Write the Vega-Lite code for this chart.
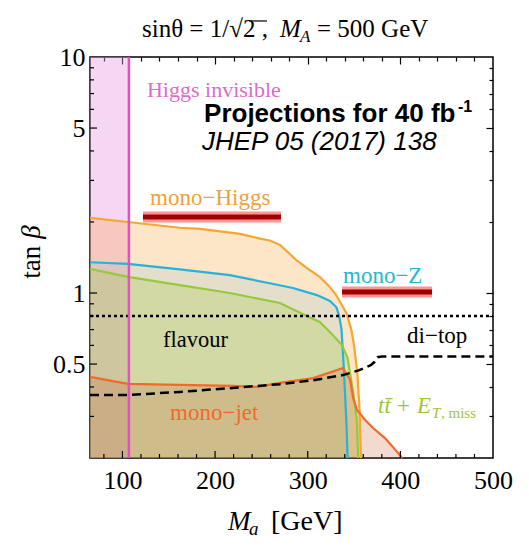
{
  "$schema": "https://vega.github.io/schema/vega-lite/v6.json",
  "width": 403,
  "height": 401,
  "autosize": "none",
  "padding": {"left": 90, "top": 57, "right": 36, "bottom": 89},
  "background": "white",
  "config": {
    "view": {"stroke": "black", "strokeWidth": 1.5},
    "axis": {"domain": false, "grid": false, "title": null, "tickColor": "black", "tickWidth": 1.2, "labelColor": "black", "labelFont": "Liberation Serif", "labelFontSize": 26, "labelOverlap": false, "labelFlush": false, "zindex": 1}
  },
  "datasets": {
    "curves": [
      {"s": "monoHiggs", "ma": 65, "tb": 2.08}, {"s": "monoHiggs", "ma": 106, "tb": 2.0}, {"s": "monoHiggs", "ma": 162, "tb": 1.89}, {"s": "monoHiggs", "ma": 184, "tb": 1.87}, {"s": "monoHiggs", "ma": 227, "tb": 1.78}, {"s": "monoHiggs", "ma": 248.5, "tb": 1.70}, {"s": "monoHiggs", "ma": 259, "tb": 1.67}, {"s": "monoHiggs", "ma": 270, "tb": 1.60}, {"s": "monoHiggs", "ma": 288.5, "tb": 1.37}, {"s": "monoHiggs", "ma": 300, "tb": 1.27}, {"s": "monoHiggs", "ma": 313, "tb": 1.17}, {"s": "monoHiggs", "ma": 322, "tb": 1.08}, {"s": "monoHiggs", "ma": 330, "tb": 0.99}, {"s": "monoHiggs", "ma": 336, "tb": 0.90}, {"s": "monoHiggs", "ma": 342, "tb": 0.82}, {"s": "monoHiggs", "ma": 347, "tb": 0.70}, {"s": "monoHiggs", "ma": 350, "tb": 0.60}, {"s": "monoHiggs", "ma": 353.5, "tb": 0.46}, {"s": "monoHiggs", "ma": 356, "tb": 0.32}, {"s": "monoHiggs", "ma": 357.5, "tb": 0.2},
      {"s": "monoZ", "ma": 65, "tb": 1.35}, {"s": "monoZ", "ma": 106, "tb": 1.33}, {"s": "monoZ", "ma": 162, "tb": 1.26}, {"s": "monoZ", "ma": 216, "tb": 1.19}, {"s": "monoZ", "ma": 259, "tb": 1.10}, {"s": "monoZ", "ma": 284, "tb": 1.05}, {"s": "monoZ", "ma": 310, "tb": 0.98}, {"s": "monoZ", "ma": 324, "tb": 0.925}, {"s": "monoZ", "ma": 331, "tb": 0.87}, {"s": "monoZ", "ma": 334, "tb": 0.80}, {"s": "monoZ", "ma": 336.5, "tb": 0.70}, {"s": "monoZ", "ma": 338.5, "tb": 0.52}, {"s": "monoZ", "ma": 340.5, "tb": 0.36}, {"s": "monoZ", "ma": 342, "tb": 0.27}, {"s": "monoZ", "ma": 343, "tb": 0.2},
      {"s": "ttMET", "ma": 65, "tb": 1.265}, {"s": "ttMET", "ma": 106, "tb": 1.17}, {"s": "ttMET", "ma": 162, "tb": 1.08}, {"s": "ttMET", "ma": 216, "tb": 1.0}, {"s": "ttMET", "ma": 270, "tb": 0.907}, {"s": "ttMET", "ma": 299, "tb": 0.80}, {"s": "ttMET", "ma": 313, "tb": 0.754}, {"s": "ttMET", "ma": 327, "tb": 0.664}, {"s": "ttMET", "ma": 337, "tb": 0.602}, {"s": "ttMET", "ma": 343, "tb": 0.531}, {"s": "ttMET", "ma": 346, "tb": 0.45}, {"s": "ttMET", "ma": 349, "tb": 0.38}, {"s": "ttMET", "ma": 353, "tb": 0.29}, {"s": "ttMET", "ma": 354.5, "tb": 0.2},
      {"s": "monoJet", "ma": 65, "tb": 0.441}, {"s": "monoJet", "ma": 106, "tb": 0.412}, {"s": "monoJet", "ma": 162, "tb": 0.408}, {"s": "monoJet", "ma": 219, "tb": 0.404}, {"s": "monoJet", "ma": 245, "tb": 0.40}, {"s": "monoJet", "ma": 270, "tb": 0.416}, {"s": "monoJet", "ma": 306, "tb": 0.436}, {"s": "monoJet", "ma": 338, "tb": 0.481}, {"s": "monoJet", "ma": 345.7, "tb": 0.43}, {"s": "monoJet", "ma": 349, "tb": 0.36}, {"s": "monoJet", "ma": 353, "tb": 0.32}, {"s": "monoJet", "ma": 362, "tb": 0.29}, {"s": "monoJet", "ma": 370.5, "tb": 0.268}, {"s": "monoJet", "ma": 383.4, "tb": 0.243}, {"s": "monoJet", "ma": 394, "tb": 0.218}, {"s": "monoJet", "ma": 402, "tb": 0.2},
      {"s": "diTop", "ma": 65, "tb": 0.37}, {"s": "diTop", "ma": 106, "tb": 0.37}, {"s": "diTop", "ma": 162, "tb": 0.381}, {"s": "diTop", "ma": 219, "tb": 0.396}, {"s": "diTop", "ma": 270, "tb": 0.411}, {"s": "diTop", "ma": 306, "tb": 0.427}, {"s": "diTop", "ma": 338, "tb": 0.449}, {"s": "diTop", "ma": 355, "tb": 0.47}, {"s": "diTop", "ma": 368, "tb": 0.495}, {"s": "diTop", "ma": 372, "tb": 0.51}, {"s": "diTop", "ma": 375.5, "tb": 0.535}, {"s": "diTop", "ma": 380, "tb": 0.538}, {"s": "diTop", "ma": 500, "tb": 0.538}
    ],
    "higgsInvisible": [{"ma": 107, "lo": 0.2, "hi": 10, "left": 65}],
    "flavour": [{"tb": 0.8, "from": 65, "to": 500}],
    "minorX": [{"v": 80}, {"v": 120}, {"v": 140}, {"v": 160}, {"v": 180}, {"v": 220}, {"v": 240}, {"v": 260}, {"v": 280}, {"v": 320}, {"v": 340}, {"v": 360}, {"v": 380}, {"v": 420}, {"v": 440}, {"v": 460}, {"v": 480}],
    "majorX": [{"v": 100}, {"v": 200}, {"v": 300}, {"v": 400}],
    "minorY": [{"v": 0.3}, {"v": 0.4}, {"v": 0.6}, {"v": 0.7}, {"v": 0.8}, {"v": 0.9}, {"v": 2}, {"v": 3}, {"v": 4}, {"v": 6}, {"v": 7}, {"v": 8}, {"v": 9}],
    "majorY": [{"v": 0.5}, {"v": 1}, {"v": 5}]
  },
  "resolve": {"axis": {"x": "independent", "y": "independent"}},
  "layer": [
    {
      "encoding": {
        "x": {"type": "quantitative", "scale": {"domain": [65, 500], "nice": false, "zero": false},
          "axis": {"orient": "bottom", "ticks": false, "values": [100, 200, 300, 400, 500], "labelPadding": 9}},
        "y": {"type": "quantitative", "scale": {"type": "log", "domain": [0.2, 10], "nice": false},
          "axis": {"orient": "left", "ticks": false, "values": [0.5, 1, 5, 10], "labelExpr": "'' + datum.value", "labelPadding": 5}}
      },
      "layer": [
        {
          "data": {"name": "higgsInvisible"},
          "mark": {"type": "rect", "color": "#e79be0", "opacity": 0.4},
          "encoding": {"x": {"field": "left"}, "x2": {"field": "ma"}, "y": {"field": "lo"}, "y2": {"field": "hi"}}
        },
        {
          "data": {"name": "curves"},
          "transform": [{"filter": "datum.s === 'monoHiggs'"}],
          "mark": {"type": "area", "color": "#f9a13a", "opacity": 0.28},
          "encoding": {"x": {"field": "ma"}, "y": {"field": "tb"}, "y2": {"datum": 0.2}}
        },
        {
          "data": {"name": "curves"},
          "transform": [{"filter": "datum.s === 'monoZ'"}],
          "mark": {"type": "area", "color": "#3fb3d9", "opacity": 0.13},
          "encoding": {"x": {"field": "ma"}, "y": {"field": "tb"}, "y2": {"datum": 0.2}}
        },
        {
          "data": {"name": "curves"},
          "transform": [{"filter": "datum.s === 'ttMET'"}],
          "mark": {"type": "area", "color": "#9acd32", "opacity": 0.25},
          "encoding": {"x": {"field": "ma"}, "y": {"field": "tb"}, "y2": {"datum": 0.2}}
        },
        {
          "data": {"name": "curves"},
          "transform": [{"filter": "datum.s === 'monoJet'"}],
          "mark": {"type": "area", "color": "#c8603a", "opacity": 0.23},
          "encoding": {"x": {"field": "ma"}, "y": {"field": "tb"}, "y2": {"datum": 0.2}}
        },
        {
          "data": {"name": "curves"},
          "transform": [{"filter": "datum.s === 'monoHiggs'"}],
          "mark": {"type": "line", "color": "#f7a630", "strokeWidth": 2.2},
          "encoding": {"x": {"field": "ma"}, "y": {"field": "tb"}}
        },
        {
          "data": {"name": "curves"},
          "transform": [{"filter": "datum.s === 'monoZ'"}],
          "mark": {"type": "line", "color": "#27b2d8", "strokeWidth": 2.2},
          "encoding": {"x": {"field": "ma"}, "y": {"field": "tb"}}
        },
        {
          "data": {"name": "curves"},
          "transform": [{"filter": "datum.s === 'ttMET'"}],
          "mark": {"type": "line", "color": "#97c93c", "strokeWidth": 2.2},
          "encoding": {"x": {"field": "ma"}, "y": {"field": "tb"}}
        },
        {
          "data": {"name": "curves"},
          "transform": [{"filter": "datum.s === 'monoJet'"}],
          "mark": {"type": "line", "color": "#f26a2a", "strokeWidth": 2.2},
          "encoding": {"x": {"field": "ma"}, "y": {"field": "tb"}}
        },
        {
          "data": {"name": "flavour"},
          "mark": {"type": "rule", "color": "black", "strokeWidth": 2.5, "strokeDash": [3, 3]},
          "encoding": {"x": {"field": "from"}, "x2": {"field": "to"}, "y": {"field": "tb"}}
        },
        {
          "data": {"name": "curves"},
          "transform": [{"filter": "datum.s === 'diTop'"}],
          "mark": {"type": "line", "color": "black", "strokeWidth": 2.5, "strokeDash": [9, 5]},
          "encoding": {"x": {"field": "ma"}, "y": {"field": "tb"}}
        },
        {
          "data": {"name": "higgsInvisible"},
          "mark": {"type": "rule", "color": "#e052c0", "strokeWidth": 2.5},
          "encoding": {"x": {"field": "ma"}, "y": {"field": "lo"}, "y2": {"field": "hi"}}
        },
        {"data": {"name": "minorX"}, "mark": {"type": "rule", "color": "black", "strokeWidth": 1.2},
         "encoding": {"x": {"field": "v"}, "y": {"datum": 0.2}, "y2": {"datum": 0.208}}},
        {"data": {"name": "majorX"}, "mark": {"type": "rule", "color": "black", "strokeWidth": 1.2},
         "encoding": {"x": {"field": "v"}, "y": {"datum": 0.2}, "y2": {"datum": 0.2141}}},
        {"data": {"name": "minorY"}, "mark": {"type": "rule", "color": "black", "strokeWidth": 1.2},
         "encoding": {"y": {"field": "v"}, "x": {"datum": 65}, "x2": {"datum": 69.3}}},
        {"data": {"name": "majorY"}, "mark": {"type": "rule", "color": "black", "strokeWidth": 1.2},
         "encoding": {"y": {"field": "v"}, "x": {"datum": 65}, "x2": {"datum": 72.6}}},
        {"data": {"values": [{}]}, "mark": {"type": "rule", "color": "#ff2a2a", "opacity": 0.5, "strokeWidth": 11},
         "encoding": {"x": {"datum": 122.2}, "x2": {"datum": 271.2}, "y": {"datum": 2.10}}},
        {"data": {"values": [{}]}, "mark": {"type": "rule", "color": "#a00000", "strokeWidth": 5},
         "encoding": {"x": {"datum": 122.2}, "x2": {"datum": 271.2}, "y": {"datum": 2.10}}},
        {"data": {"values": [{}]}, "mark": {"type": "rule", "color": "#ff2a2a", "opacity": 0.5, "strokeWidth": 11},
         "encoding": {"x": {"datum": 337.0}, "x2": {"datum": 434.2}, "y": {"datum": 1.01}}},
        {"data": {"values": [{}]}, "mark": {"type": "rule", "color": "#a00000", "strokeWidth": 5},
         "encoding": {"x": {"datum": 337.0}, "x2": {"datum": 434.2}, "y": {"datum": 1.01}}},
        {"data": {"values": [{}]}, "mark": {"type": "text", "text": "Higgs invisible", "font": "Liberation Serif", "fontSize": 22, "align": "left", "baseline": "alphabetic", "color": "#dc6cc8"},
         "encoding": {"x": {"datum": 126.5}, "y": {"datum": 6.77}}},
        {"data": {"values": [{}]}, "mark": {"type": "text", "text": "Projections for 40 fb", "font": "Liberation Sans", "fontWeight": "bold", "fontSize": 26, "align": "left", "baseline": "alphabetic", "color": "black"},
         "encoding": {"x": {"datum": 188.1}, "y": {"datum": 5.30}}},
        {"data": {"values": [{}]}, "mark": {"type": "text", "text": "-1", "font": "Liberation Sans", "fontWeight": "bold", "fontSize": 16, "align": "left", "baseline": "alphabetic", "color": "black"},
         "encoding": {"x": {"datum": 462.2}, "y": {"datum": 5.85}}},
        {"data": {"values": [{}]}, "mark": {"type": "text", "text": "JHEP 05 (2017) 138", "font": "Liberation Sans", "fontStyle": "italic", "fontSize": 26, "align": "left", "baseline": "alphabetic", "color": "black"},
         "encoding": {"x": {"datum": 185.9}, "y": {"datum": 4.04}}},
        {"data": {"values": [{}]}, "mark": {"type": "text", "text": "mono−Higgs", "font": "Liberation Serif", "fontSize": 23, "align": "left", "baseline": "alphabetic", "color": "#f0a040"},
         "encoding": {"x": {"datum": 129.8}, "y": {"datum": 2.36}}},
        {"data": {"values": [{}]}, "mark": {"type": "text", "text": "mono−Z", "font": "Liberation Serif", "fontSize": 23, "align": "left", "baseline": "alphabetic", "color": "#29b5d5"},
         "encoding": {"x": {"datum": 338.1}, "y": {"datum": 1.103}}},
        {"data": {"values": [{}]}, "mark": {"type": "text", "text": "flavour", "font": "Liberation Serif", "fontSize": 22.5, "align": "left", "baseline": "alphabetic", "color": "black"},
         "encoding": {"x": {"datum": 143.8}, "y": {"datum": 0.590}}},
        {"data": {"values": [{}]}, "mark": {"type": "text", "text": "di−top", "font": "Liberation Serif", "fontSize": 23, "align": "left", "baseline": "alphabetic", "color": "black"},
         "encoding": {"x": {"datum": 407.2}, "y": {"datum": 0.614}}},
        {"data": {"values": [{}]}, "mark": {"type": "text", "text": "mono−jet", "font": "Liberation Serif", "fontSize": 23, "align": "left", "baseline": "alphabetic", "color": "#f26a2a"},
         "encoding": {"x": {"datum": 151.4}, "y": {"datum": 0.290}}},
        {"data": {"values": [{}]}, "mark": {"type": "text", "text": "tt̄", "font": "Liberation Serif", "fontStyle": "italic", "fontSize": 23, "align": "left", "baseline": "alphabetic", "color": "#9cc63a"},
         "encoding": {"x": {"datum": 375.9}, "y": {"datum": 0.310}}},
        {"data": {"values": [{}]}, "mark": {"type": "text", "text": "+", "font": "Liberation Serif", "fontSize": 23, "align": "left", "baseline": "alphabetic", "color": "#9cc63a"},
         "encoding": {"x": {"datum": 396.4}, "y": {"datum": 0.310}}},
        {"data": {"values": [{}]}, "mark": {"type": "text", "text": "E", "font": "Liberation Serif", "fontStyle": "italic", "fontSize": 23, "align": "left", "baseline": "alphabetic", "color": "#9cc63a"},
         "encoding": {"x": {"datum": 418.0}, "y": {"datum": 0.310}}},
        {"data": {"values": [{}]}, "mark": {"type": "text", "text": "T", "font": "Liberation Serif", "fontStyle": "italic", "fontSize": 15, "align": "left", "baseline": "alphabetic", "color": "#9cc63a"},
         "encoding": {"x": {"datum": 434.2}, "y": {"datum": 0.2955}}},
        {"data": {"values": [{}]}, "mark": {"type": "text", "text": ", miss", "font": "Liberation Serif", "fontSize": 15, "align": "left", "baseline": "alphabetic", "color": "#9cc63a"},
         "encoding": {"x": {"datum": 443.9}, "y": {"datum": 0.2955}}},
        {"data": {"values": [{}]}, "mark": {"type": "text", "text": "sinθ = 1/√2 ,", "font": "Liberation Serif", "fontSize": 25, "align": "left", "baseline": "alphabetic", "color": "black"},
         "encoding": {"x": {"datum": 121.1}, "y": {"datum": 12.15}}},
        {"data": {"values": [{}]}, "mark": {"type": "rule", "color": "black", "strokeWidth": 1.2},
         "encoding": {"x": {"datum": 236.6}, "x2": {"datum": 256.1}, "y": {"datum": 14.21}}},
        {"data": {"values": [{}]}, "mark": {"type": "text", "text": "M", "font": "Liberation Serif", "fontStyle": "italic", "fontSize": 25, "align": "left", "baseline": "alphabetic", "color": "black"},
         "encoding": {"x": {"datum": 270.1}, "y": {"datum": 12.15}}},
        {"data": {"values": [{}]}, "mark": {"type": "text", "text": "A", "font": "Liberation Serif", "fontStyle": "italic", "fontSize": 17, "align": "left", "baseline": "alphabetic", "color": "black"},
         "encoding": {"x": {"datum": 291.7}, "y": {"datum": 11.57}}},
        {"data": {"values": [{}]}, "mark": {"type": "text", "text": "= 500 GeV", "font": "Liberation Serif", "fontSize": 25, "align": "left", "baseline": "alphabetic", "color": "black"},
         "encoding": {"x": {"datum": 310.0}, "y": {"datum": 12.15}}},
        {"data": {"values": [{}]}, "mark": {"type": "text", "text": "M", "font": "Liberation Serif", "fontStyle": "italic", "fontSize": 27, "align": "left", "baseline": "alphabetic", "color": "black"},
         "encoding": {"x": {"datum": 214.0}, "y": {"datum": 0.0991}}},
        {"data": {"values": [{}]}, "mark": {"type": "text", "text": "a", "font": "Liberation Serif", "fontStyle": "italic", "fontSize": 19, "align": "left", "baseline": "alphabetic", "color": "black"},
         "encoding": {"x": {"datum": 236.6}, "y": {"datum": 0.0944}}},
        {"data": {"values": [{}]}, "mark": {"type": "text", "text": "[GeV]", "font": "Liberation Serif", "fontSize": 28, "align": "left", "baseline": "alphabetic", "color": "black"},
         "encoding": {"x": {"datum": 260.4}, "y": {"datum": 0.0991}}},
        {"data": {"values": [{}]}, "mark": {"type": "text", "text": "tan", "font": "Liberation Serif", "fontSize": 27, "angle": 270, "align": "left", "baseline": "alphabetic", "color": "black"},
         "encoding": {"x": {"datum": 11.0}, "y": {"datum": 1.15}}},
        {"data": {"values": [{}]}, "mark": {"type": "text", "text": "β", "font": "Liberation Serif", "fontStyle": "italic", "fontSize": 27, "angle": 270, "align": "left", "baseline": "alphabetic", "color": "black"},
         "encoding": {"x": {"datum": 11.0}, "y": {"datum": 1.70}}}
      ]
    },
    {
      "data": {"values": [{}]},
      "mark": {"type": "point", "opacity": 0},
      "encoding": {
        "x": {"datum": 100, "type": "quantitative", "scale": {"domain": [65, 500], "nice": false, "zero": false},
          "axis": {"orient": "top", "offset": -4, "tickSize": 4, "labels": false, "values": [80, 120, 140, 160, 180, 220, 240, 260, 280, 320, 340, 360, 380, 420, 440, 460, 480]}},
        "y": {"datum": 1, "type": "quantitative", "scale": {"type": "log", "domain": [0.2, 10], "nice": false},
          "axis": {"orient": "right", "offset": -4, "tickSize": 4, "labels": false, "values": [0.3, 0.4, 0.6, 0.7, 0.8, 0.9, 2, 3, 4, 6, 7, 8, 9]}}
      }
    },
    {
      "data": {"values": [{}]},
      "mark": {"type": "point", "opacity": 0},
      "encoding": {
        "x": {"datum": 100, "type": "quantitative", "scale": {"domain": [65, 500], "nice": false, "zero": false},
          "axis": {"orient": "top", "offset": -7, "tickSize": 7, "labels": false, "values": [100, 200, 300, 400]}},
        "y": {"datum": 1, "type": "quantitative", "scale": {"type": "log", "domain": [0.2, 10], "nice": false},
          "axis": {"orient": "right", "offset": -7, "tickSize": 7, "labels": false, "values": [0.5, 1, 5]}}
      }
    }
  ]
}
